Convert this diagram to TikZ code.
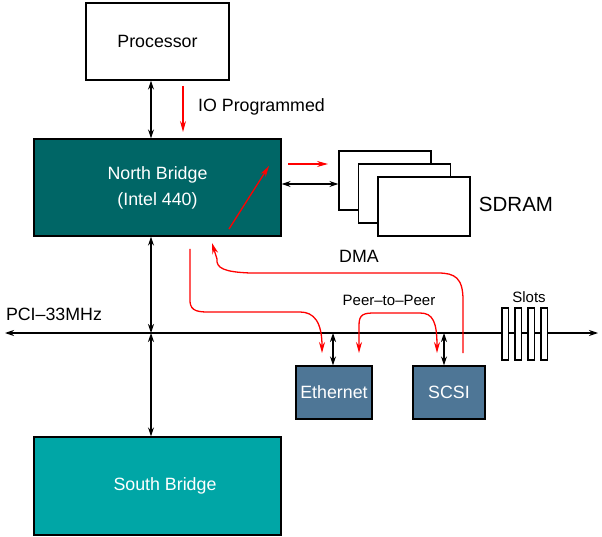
\documentclass[tikz,border=0pt]{standalone}
\usepackage{fontspec}
\setmainfont{Liberation Sans}
\usetikzlibrary{arrows.meta}
\definecolor{nbcol}{RGB}{0,102,102}
\definecolor{sbcol}{RGB}{0,166,166}
\definecolor{devcol}{RGB}{78,118,150}
\begin{document}
\begin{tikzpicture}[x=1pt,y=1pt,
  box/.style={draw=black,line width=1.3pt,inner sep=0pt},
  lbl/.style={font=\fontsize{17.8}{20}\selectfont,inner sep=0pt},
  small/.style={font=\fontsize{15}{17}\selectfont,inner sep=0pt},
  dbl/.style={line width=1.2pt,{Stealth[length=9pt,width=6pt]}-{Stealth[length=9pt,width=6pt]}},
  red1/.style={draw=red,line width=1.3pt,-{Stealth[length=11pt,width=6pt]}},
  red2/.style={draw=red,line width=1.3pt,{Stealth[length=11pt,width=6pt]}-{Stealth[length=11pt,width=6pt]}}]
\useasboundingbox (0,0) rectangle (602,-537);
% nodes
\node[box,fill=white,minimum width=143pt,minimum height=77pt,lbl] (proc) at (157.5,-41.5) {Processor};
\node[box,fill=nbcol,minimum width=247pt,minimum height=97pt,lbl,text=white,align=center] (nb) at (157.5,-187.5) {North Bridge\\[6pt](Intel 440)};
\node[box,fill=sbcol,minimum width=247pt,minimum height=98pt,lbl,text=white] (sb) at (157.5,-486) {\hspace*{15pt}South Bridge};
\node[box,fill=devcol,minimum width=76pt,minimum height=53pt,lbl,text=white] (eth) at (334,-392.5) {Ethernet};
\node[box,fill=devcol,minimum width=72pt,minimum height=53pt,lbl,text=white] (scsi) at (449,-392.5) {SCSI};
\node[box,fill=white,minimum width=92pt,minimum height=59pt] (ram1) at (385,-180.5) {};
\node[box,fill=white,minimum width=92pt,minimum height=59pt] (ram2) at (404.5,-193.5) {};
\node[box,fill=white,minimum width=92pt,minimum height=59pt] (ram3) at (424,-206.5) {};
\node[font=\fontsize{20.5}{23}\selectfont,inner sep=0pt] (sdram) at (516,-204) {SDRAM};
\node[lbl,anchor=west] (io) at (198,-107) {IO Programmed};
\node[lbl] (dma) at (359,-256) {DMA};
\node[small] (p2p) at (389,-300) {Peer--to--Peer};
\node[small] (slots) at (529,-297) {Slots};
\node[lbl] (pci) at (54,-314) {PCI--33MHz};
% coordinates
\coordinate (bx) at (151,0);
\coordinate (ry) at (0,-184);
\coordinate (pciL) at (5,-333);
\coordinate (pciR) at (598,-333);
% bus
\draw[dbl] (pciL) -- (pciR);
\foreach \x in {502,515,528,541}
  \draw[line width=1.2pt,fill=white] (\x,-308) rectangle ++(6.5,-52);
% black connectors
\draw[dbl] (proc.south -| bx) -- (nb.north -| bx);
\draw[dbl] (nb.south -| bx) -- (bx |- pciL);
\draw[dbl] (bx |- pciL) -- (sb.north -| bx);
\draw[dbl] (nb.east |- ry) -- (ram1.west |- ry);
\draw[dbl] ([xshift=-1pt]eth.north) -- ([xshift=-1pt]eth.north |- pciL);
\draw[dbl] ([xshift=-5pt]scsi.north) -- ([xshift=-5pt]scsi.north |- pciL);
% red arrows
\coordinate (ioA) at (183,-86);
\coordinate (ioB) at (183,-132);
\draw[red1] (ioA) -- (ioB);
\coordinate (inA) at (229,-229);
\coordinate (inB) at (269,-166);
\draw[red1] (inA) -- (inB);
\coordinate (rtA) at (288,-164);
\coordinate (rtB) at (328,-164);
\draw[red1] (rtA) -- (rtB);
\coordinate (e1) at (190,-249);
\coordinate (e2) at (322,-353);
\draw[red1] (e1) -- (190,-297) .. controls (189,-310) and (195,-312) .. (208,-312)
  -- (300,-312) .. controls (314,-312) and (322,-322) .. (e2);
\coordinate (d1) at (463,-353);
\coordinate (d2) at (212,-243);
\draw[red1] (d1) -- (463,-300) .. controls (463,-278) and (455,-273) .. (438,-273)
  -- (250,-273) .. controls (224,-272) and (216,-268) .. (217,-259) -- (d2);
\coordinate (p1) at (359,-353);
\coordinate (p2) at (437,-353);
\draw[red2] (p1) -- (359,-325) .. controls (359,-314) and (364,-313) .. (375,-313)
  -- (420,-313) .. controls (433,-313) and (437,-322) .. (p2);
\end{tikzpicture}
\end{document}
